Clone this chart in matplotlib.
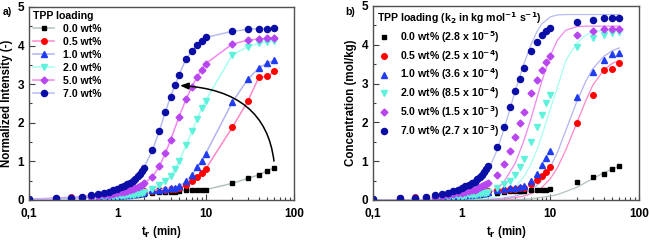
import numpy as np
import matplotlib
matplotlib.use("Agg")
import matplotlib.pyplot as plt
from matplotlib.ticker import LogLocator, FixedLocator, FixedFormatter, MultipleLocator, NullFormatter

plt.rcParams['font.family'] = ['Liberation Sans', 'DejaVu Sans']
plt.rcParams['font.weight'] = 'bold'
plt.rcParams['mathtext.default'] = 'bf'

# time points (min)
t_low = [0.1, 0.2, 0.3, 0.4, 0.5, 0.6, 0.7, 0.8, 0.9, 1.0,
         1.1, 1.2, 1.3, 1.4, 1.5, 1.6, 1.7, 1.8, 1.9, 2.0]
t_high = [2.5, 3, 3.5, 4, 4.5, 5, 6, 7, 8, 9, 10, 20, 30, 40, 50, 60]
t_high_no45 = [2.5, 3, 3.5, 4, 5, 6, 7, 8, 9, 10, 20, 30, 40, 50, 60]
t_all = t_low + t_high

labels_a = ["0.0 wt%", "0.5 wt%", "1.0 wt%", "2.0 wt%", "5.0 wt%", "7.0 wt%"]
labels_b = ["0.0 wt% (2.8 x 10$^{-5}$)", "0.5 wt% (2.5 x 10$^{-4}$)",
            "1.0 wt% (3.6 x 10$^{-4}$)", "2.0 wt% (8.5 x 10$^{-4}$)",
            "5.0 wt% (1.5 x 10$^{-3}$)", "7.0 wt% (2.7 x 10$^{-3}$)"]

# panel a : normalized intensity
a00 = [0.00, 0.02, 0.03, 0.04, 0.05, 0.06, 0.07, 0.08, 0.09, 0.10, 0.10, 0.11, 0.12, 0.12, 0.13, 0.14, 0.14, 0.15, 0.15, 0.16,
       0.18, 0.20, 0.21, 0.22, 0.22, 0.23, 0.26, 0.26, 0.25, 0.26, 0.27, 0.43, 0.56, 0.65, 0.76, 0.84]
a05 = [0.02, 0.05, 0.07, 0.09, 0.11, 0.12, 0.13, 0.14, 0.15, 0.16, 0.17, 0.18, 0.19, 0.20, 0.20, 0.21, 0.22, 0.22, 0.23, 0.23,
       0.24, 0.26, 0.27, 0.28, 0.29, 0.30, 0.40, 0.50, 0.60, 0.70, 0.80, 1.88, 2.56, 3.18, 3.20, 3.33]
a10 = [0.00, 0.02, 0.03, 0.04, 0.05, 0.06, 0.07, 0.08, 0.09, 0.10, 0.11, 0.12, 0.13, 0.14, 0.15, 0.16, 0.17, 0.18, 0.19, 0.20,
       0.25, 0.27, 0.28, 0.30, 0.32, 0.35, 0.48, 0.65, 0.85, 1.02, 1.20, 2.53, 3.13, 3.42, 3.55, 3.62]
a20 = [0.00, 0.01, 0.02, 0.03, 0.04, 0.05, 0.06, 0.07, 0.08, 0.09, 0.10, 0.11, 0.12, 0.13, 0.14, 0.15, 0.16, 0.17, 0.18, 0.20,
       0.28, 0.38, 0.48, 0.62, 0.80, 1.00, 1.42, 1.78, 2.10, 2.38, 2.57, 3.76, 3.97, 4.06, 4.10, 4.12]
a50 = [0.01, 0.03, 0.05, 0.06, 0.08, 0.10, 0.12, 0.14, 0.16, 0.18, 0.20, 0.22, 0.24, 0.26, 0.28, 0.31, 0.34, 0.37, 0.40, 0.43,
       0.60, 0.88, 1.21, 1.55, 2.16, 2.61, 2.94, 3.19, 3.37, 3.53, 4.04, 4.14, 4.17, 4.19, 4.20]
a70 = [0.02, 0.04, 0.06, 0.08, 0.12, 0.15, 0.18, 0.22, 0.26, 0.29, 0.33, 0.37, 0.41, 0.45, 0.50, 0.55, 0.61, 0.67, 0.75, 0.84,
       1.29, 1.80, 2.28, 2.68, 2.97, 3.24, 3.66, 3.85, 4.02, 4.13, 4.21, 4.37, 4.42, 4.44, 4.44, 4.46]

# panel b : concentration (mol/kg)
b00 = [0.00, 0.02, 0.03, 0.04, 0.05, 0.06, 0.07, 0.08, 0.09, 0.10, 0.11, 0.12, 0.12, 0.13, 0.14, 0.14, 0.15, 0.15, 0.16, 0.17,
       0.19, 0.21, 0.22, 0.23, 0.23, 0.24, 0.27, 0.27, 0.26, 0.27, 0.28, 0.46, 0.59, 0.68, 0.80, 0.88]
b05 = [0.02, 0.05, 0.07, 0.09, 0.11, 0.13, 0.14, 0.15, 0.16, 0.17, 0.18, 0.19, 0.20, 0.21, 0.21, 0.22, 0.23, 0.23, 0.24, 0.24,
       0.25, 0.27, 0.28, 0.29, 0.30, 0.32, 0.42, 0.52, 0.62, 0.73, 0.85, 1.98, 2.70, 3.35, 3.37, 3.52]
b10 = [0.00, 0.02, 0.03, 0.04, 0.05, 0.06, 0.07, 0.08, 0.09, 0.10, 0.12, 0.13, 0.14, 0.15, 0.16, 0.17, 0.18, 0.19, 0.20, 0.21,
       0.26, 0.28, 0.30, 0.32, 0.34, 0.37, 0.50, 0.68, 0.89, 1.07, 1.26, 2.66, 3.29, 3.60, 3.75, 3.80]
b20 = [0.00, 0.01, 0.02, 0.03, 0.04, 0.05, 0.06, 0.07, 0.08, 0.09, 0.11, 0.12, 0.13, 0.14, 0.15, 0.16, 0.17, 0.18, 0.19, 0.21,
       0.30, 0.40, 0.50, 0.65, 0.84, 1.05, 1.49, 1.87, 2.20, 2.50, 2.70, 3.95, 4.17, 4.26, 4.31, 4.33]
b50 = [0.01, 0.03, 0.05, 0.06, 0.08, 0.11, 0.13, 0.15, 0.17, 0.19, 0.21, 0.23, 0.25, 0.27, 0.29, 0.33, 0.36, 0.39, 0.42, 0.45,
       0.65, 0.92, 1.27, 1.63, 1.98, 2.27, 2.75, 3.10, 3.35, 3.55, 3.72, 4.26, 4.36, 4.40, 4.42, 4.42]
b70 = [0.02, 0.04, 0.06, 0.08, 0.13, 0.16, 0.19, 0.23, 0.27, 0.31, 0.35, 0.39, 0.43, 0.47, 0.53, 0.58, 0.64, 0.71, 0.79, 0.88,
       1.36, 1.89, 2.40, 2.82, 3.12, 3.41, 3.85, 4.06, 4.24, 4.36, 4.43, 4.60, 4.65, 4.68, 4.68, 4.70]

# fitted curves in panel b
t_fit = [0.1, 0.3, 0.5, 0.7, 1, 1.5, 2, 2.5, 3, 4, 5, 6, 7, 8, 10, 12, 15, 20, 25, 30, 40, 50, 60]
f00 = [0, 0, 0, 0, 0, 0, 0, 0, 0, 0.01, 0.02, 0.03, 0.05, 0.07, 0.10, 0.14, 0.22, 0.33, 0.45, 0.55, 0.70, 0.80, 0.87]
f05 = [0, 0, 0, 0, 0, 0, 0.01, 0.02, 0.03, 0.06, 0.10, 0.16, 0.23, 0.32, 0.55, 0.83, 1.30, 2.00, 2.55, 2.95, 3.35, 3.52, 3.60]
f10 = [0, 0, 0, 0, 0, 0.01, 0.02, 0.03, 0.05, 0.10, 0.17, 0.26, 0.37, 0.50, 0.85, 1.22, 1.80, 2.55, 3.05, 3.38, 3.70, 3.85, 3.92]
f20 = [0, 0, 0, 0, 0.01, 0.02, 0.05, 0.09, 0.15, 0.33, 0.59, 0.91, 1.27, 1.65, 2.35, 2.90, 3.60, 4.05, 4.25, 4.33, 4.38, 4.40, 4.40]
f50 = [0, 0, 0, 0.01, 0.02, 0.07, 0.16, 0.29, 0.47, 0.94, 1.51, 2.07, 2.60, 3.05, 3.72, 4.12, 4.38, 4.47, 4.48, 4.48, 4.48, 4.48, 4.48]
f70 = [0, 0, 0.02, 0.04, 0.12, 0.37, 0.76, 1.28, 1.82, 2.80, 3.49, 3.98, 4.32, 4.54, 4.72, 4.77, 4.78, 4.78, 4.78, 4.78, 4.78, 4.78, 4.78]

mark_col = ['#000000', '#ff0000', '#1f3cf0', '#5ef2dc', '#b846f0', '#0a0ea6']
line_col = ['#b4c2c2', '#ff86c8', '#b2b2f4', '#a6fff0', '#f286f2', '#b6bcf2']
markers = ['s', 'o', '^', 'v', 'D', 'o']
msizes = [3.5, 4.0, 4.3, 4.3, 3.5, 4.4]

fig = plt.figure(figsize=(6.49, 2.41), dpi=100)
ax1 = fig.add_axes([29/649, 41/241, 265/649, 193/241])
ax2 = fig.add_axes([373/649, 41/241, 266/649, 194/241])

series_a = [(t_all, a00), (t_all, a05), (t_all, a10), (t_all, a20), (t_low + t_high_no45, a50), (t_all, a70)]
for i, (tt, yy) in enumerate(series_a):
    ax1.plot(tt, yy, color=line_col[i], lw=1.1, marker=markers[i], ms=msizes[i],
             mfc=mark_col[i], mec=mark_col[i], label=labels_a[i])

series_b = [b00, b05, b10, b20, b50, b70]
fits = [f00, f05, f10, f20, f50, f70]
for i in range(6):
    ax2.plot(t_fit, fits[i], color=line_col[i], lw=0.9)
for i in range(6):
    ax2.plot(t_all, series_b[i], ls='none', marker=markers[i], ms=msizes[i],
             mfc=mark_col[i], mec=mark_col[i], label=labels_b[i])

# curved arrow in panel a
ax1.annotate("", xy=(4.6, 2.97), xytext=(60, 0.9),
             arrowprops=dict(arrowstyle='-|>,head_length=0.5,head_width=0.2', color='black', lw=1.1,
                             connectionstyle='angle3,angleA=95,angleB=-2', shrinkA=3, shrinkB=3))

for ax in (ax1, ax2):
    ax.set_xscale('log')
    ax.set_xlim(0.1, 100)
    ax.set_ylim(0, 5)
    ax.xaxis.set_major_locator(FixedLocator([0.1, 1, 10, 100]))
    ax.xaxis.set_major_formatter(FixedFormatter(["0,1", "1", "10", "100"]))
    ax.xaxis.set_minor_locator(LogLocator(base=10, subs=np.arange(2, 10)))
    ax.xaxis.set_minor_formatter(NullFormatter())
    ax.yaxis.set_major_locator(MultipleLocator(1))
    ax.yaxis.set_minor_locator(MultipleLocator(0.5))
    ax.tick_params(which='both', direction='in', top=False, right=False, labelsize=8.5, width=0.8, color='#404040')
    ax.tick_params(which='major', length=4)
    ax.tick_params(axis='x', pad=6)
    ax.tick_params(which='minor', length=2)
    for s in ax.spines.values():
        s.set_color('#505050')
        s.set_linewidth(1.0)
    ax.set_xlabel("t$_r$ (min)", fontsize=8.3, fontweight='bold', labelpad=3)

ax1.set_ylabel("Normalized Intensity (-)", fontsize=8.3, fontweight='bold', labelpad=3)
ax2.set_ylabel("Concentration (mol/kg)", fontsize=8.3, fontweight='bold', labelpad=3)

leg1 = ax1.legend(loc='upper left', title="TPP loading", fontsize=7.6, title_fontsize=7.6,
                  frameon=False, handlelength=2.0, handletextpad=0.8, labelspacing=0.28,
                  borderaxespad=0.2, borderpad=0.2)
leg1._legend_box.align = 'left'
leg1.get_title().set_fontweight('bold')

leg2 = ax2.legend(loc='upper left', title="TPP loading (k$_2$ in kg mol$^{-1}$ s$^{-1}$)", fontsize=7.6,
                  title_fontsize=7.6, frameon=False, handlelength=1.2, handletextpad=1.0,
                  labelspacing=0.28, borderaxespad=0.2, borderpad=0.2)
leg2._legend_box.align = 'left'
leg2.get_title().set_fontweight('bold')

fig.text(3/649, 1 - 15/241, "a)", fontsize=7.6, fontweight='bold')
fig.text(345/649, 1 - 15/241, "b)", fontsize=7.6, fontweight='bold')

fig.savefig("out.png", dpi=100)
